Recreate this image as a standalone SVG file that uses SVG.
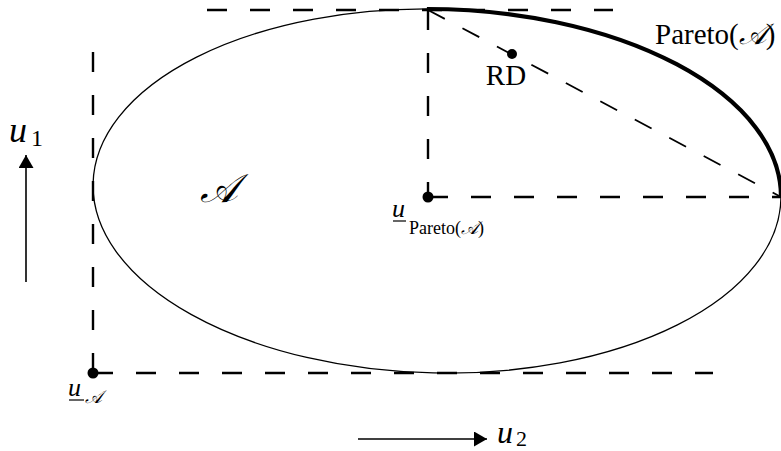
<svg xmlns="http://www.w3.org/2000/svg" width="781" height="451" viewBox="0 0 781 451">
<defs>
<style>
.dash{stroke:#000;stroke-width:2.4;stroke-dasharray:20 23;fill:none}
.dthin{stroke:#000;stroke-width:1.8;stroke-dasharray:19 20;fill:none}
.ln{stroke:#000;fill:none}
.serif{font-family:"Liberation Serif","DejaVu Serif",serif;fill:#000}
.it{font-style:italic}
.cal{font-family:"DejaVu Serif","DejaVu Sans","Noto Sans",serif;font-style:italic}
</style>
<marker id="ah" markerWidth="14" markerHeight="16" refX="13" refY="7.5" orient="auto" markerUnits="userSpaceOnUse"><path d="M0,0 L13,7.5 L0,15 z" fill="#000"/></marker>
</defs>
<rect width="781" height="451" fill="#fff"/>
<g id="set">
<ellipse cx="437" cy="191" rx="344" ry="182" transform="rotate(1.24 437 191)" class="ln" stroke-width="1.3"/>
<path id="pareto" d="M426.9,9 A344,182 1.24 0 1 781,196.4" class="ln" stroke-width="4.2"/>
</g>
<g id="connectors">
<line x1="207" y1="10" x2="613" y2="10" class="dash"/>
<line x1="428" y1="10" x2="428" y2="197" class="dash"/>
<line x1="428" y1="197" x2="781" y2="197" class="dash"/>
<line x1="93" y1="373" x2="93" y2="52" class="dash"/>
<line x1="93" y1="373" x2="713" y2="373" class="dash"/>
<line x1="428" y1="10" x2="781" y2="197" class="dthin"/>
<line x1="26" y1="282" x2="26" y2="155" class="ln" stroke-width="1.6" marker-end="url(#ah)"/>
<line x1="358" y1="439" x2="487" y2="439" class="ln" stroke-width="1.6" marker-end="url(#ah)"/>
</g>
<g id="rd">
<circle cx="512" cy="54" r="5"/>
<text x="506" y="85" class="serif" font-size="29" text-anchor="middle">RD</text>
</g>
<g id="upareto">
<circle cx="428" cy="197" r="5.5"/>
<text x="392" y="217" class="serif it" font-size="26">u</text>
<line x1="393" y1="221" x2="406" y2="221" class="ln" stroke-width="1.2"/>
<text x="409" y="234" class="serif" font-size="18">Pareto(<tspan class="cal">𝒜</tspan>)</text>
</g>
<g id="ua">
<circle cx="93" cy="373" r="5.5"/>
<text x="68" y="396" class="serif it" font-size="26">u</text>
<line x1="69" y1="400" x2="84" y2="400" class="ln" stroke-width="1.2"/>
<text x="85" y="403" class="cal" font-size="18">𝒜</text>
</g>
<g id="labels">
<text x="655" y="44" class="serif" font-size="29">Pareto(<tspan class="cal">𝒜</tspan>)</text>
<text x="200" y="202" class="cal" font-size="40">𝒜</text>
<text x="9" y="142" class="serif it" font-size="36">u</text>
<text x="31" y="146" class="serif" font-size="24">1</text>
<text x="497" y="443" class="serif it" font-size="32">u</text>
<text x="516" y="446" class="serif" font-size="22">2</text>
</g>
</svg>
